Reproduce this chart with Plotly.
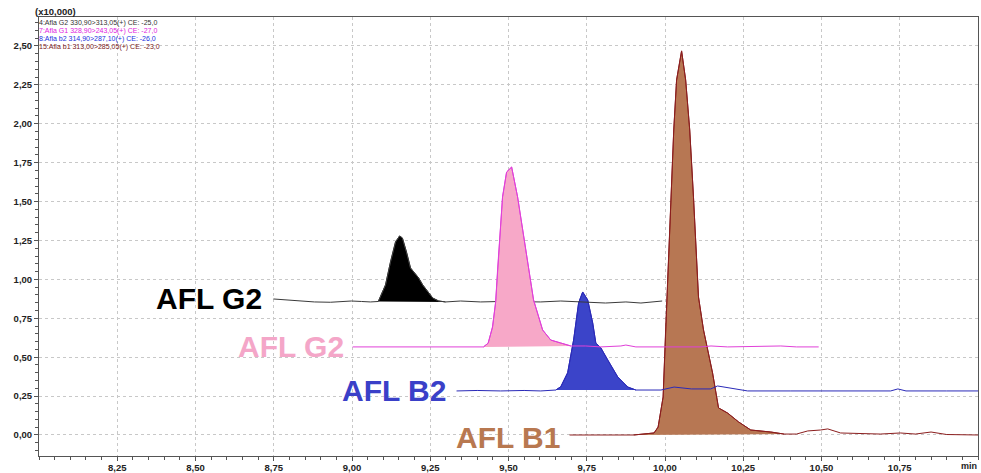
import numpy as np
import plotly.graph_objects as go

# ---- data (intensity in units of 10,000; time in min) ----
g2_t = [8.749, 8.80, 8.835, 8.88, 8.931, 8.998, 9.03, 9.059, 9.084, 9.107, 9.123, 9.139, 9.152, 9.161,
        9.174, 9.187, 9.200, 9.213, 9.226, 9.242, 9.258, 9.277, 9.299, 9.347, 9.411, 9.475, 9.539,
        9.603, 9.667, 9.73, 9.81, 9.875, 9.923, 9.991]
g2_v = [0.874, 0.866, 0.861, 0.855, 0.853, 0.861, 0.858, 0.855, 0.858, 0.964, 1.112, 1.240, 1.279, 1.266,
        1.176, 1.073, 1.041, 1.009, 0.964, 0.919, 0.880, 0.861, 0.855, 0.861, 0.855, 0.858, 0.855,
        0.855, 0.861, 0.855, 0.848, 0.855, 0.848, 0.861]

g1_t = [9.002, 9.10, 9.20, 9.315, 9.42, 9.435, 9.449, 9.459, 9.465, 9.481, 9.494, 9.510, 9.529, 9.564,
        9.580, 9.609, 9.635, 9.667, 9.699, 9.747, 9.795, 9.859, 9.875, 9.907, 9.987, 10.115, 10.147,
        10.20, 10.37, 10.42, 10.491]
g1_v = [0.566, 0.566, 0.566, 0.566, 0.566, 0.590, 0.694, 0.855, 1.060, 1.530, 1.690, 1.722, 1.530, 1.060,
        0.868, 0.675, 0.610, 0.591, 0.572, 0.572, 0.566, 0.572, 0.578, 0.566, 0.566, 0.566, 0.572,
        0.566, 0.572, 0.566, 0.566]

b2_t = [9.334, 9.40, 9.475, 9.55, 9.603, 9.651, 9.667, 9.689, 9.708, 9.724, 9.737, 9.753, 9.769, 9.779,
        9.795, 9.817, 9.849, 9.881, 9.907, 9.987, 10.029, 10.084, 10.146, 10.168, 10.20, 10.264, 10.40,
        10.55, 10.721, 10.744, 10.77, 10.90, 11.0]
b2_v = [0.283, 0.286, 0.283, 0.286, 0.283, 0.289, 0.310, 0.400, 0.610, 0.849, 0.919, 0.868, 0.720, 0.590,
        0.560, 0.480, 0.373, 0.308, 0.289, 0.289, 0.308, 0.296, 0.296, 0.315, 0.305, 0.283, 0.283,
        0.283, 0.283, 0.296, 0.283, 0.283, 0.283]

b1_t = [9.695, 9.75, 9.80, 9.85, 9.90, 9.965, 9.978, 9.994, 10.002, 10.015, 10.028, 10.037, 10.053, 10.066,
        10.079, 10.091, 10.107, 10.123, 10.152, 10.171, 10.200, 10.235, 10.274, 10.338, 10.380, 10.42,
        10.456, 10.497, 10.52, 10.561, 10.62, 10.688, 10.752, 10.80, 10.85, 10.90, 11.0]
b1_v = [0.0, 0.0, 0.0, 0.003, 0.0, 0.013, 0.051, 0.244, 0.675, 1.317, 1.960, 2.281, 2.468, 2.281,
        1.960, 1.530, 0.887, 0.675, 0.398, 0.174, 0.141, 0.084, 0.032, 0.019, 0.006, 0.006,
        0.026, 0.032, 0.039, 0.013, 0.010, 0.006, 0.013, 0.006, 0.019, 0.003, 0.0]

# integrated peak windows (min)
g2_peak = (9.084, 9.299)
g1_peak = (9.42, 9.699)
b2_peak = (9.651, 9.907)
b1_peak = (9.90, 10.380)

legend_lines = ["4:Afla G2 330,90>313,05(+) CE: -25,0",
                "7:Afla G1 328,90>243,05(+) CE: -27,0",
                "8:Afla b2 314,90>287,10(+) CE: -26,0",
                "15:Afla b1 313,00>285,05(+) CE: -23,0"]
legend_colors = ["#333333", "#E020E0", "#2030E0", "#7A2020"]

# drawing order (later on top): B1, B2, G2, G1
series = [
    (b1_t, b1_v, b1_peak, "#8B1E1E", "#B77753"),
    (b2_t, b2_v, b2_peak, "#2A2AB8", "#3B44C9"),
    (g2_t, g2_v, g2_peak, "#3A3A3A", "#000000"),
    (g1_t, g1_v, g1_peak, "#E040D8", "#F7A8C8"),
]

labels = [
    ("AFL G2", 8.72, 0.880, "#000000"),
    ("AFL G2", 8.98, 0.566, "#F4A6C8"),
    ("AFL B2", 9.308, 0.289, "#3A40C8"),
    ("AFL B1", 9.67, -0.013, "#B87850"),
]

fig = go.Figure()

for t, v, pk, lc, fc in series:
    t = np.array(t); v = np.array(v)
    m = (t >= pk[0]) & (t <= pk[1])
    fig.add_trace(go.Scatter(x=t[m], y=v[m], mode="lines", fill="toself",
                             fillcolor=fc, line=dict(color=lc, width=1),
                             hoverinfo="skip", showlegend=False))
    fig.add_trace(go.Scatter(x=t, y=v, mode="lines", line=dict(color=lc, width=1),
                             showlegend=False))

font = "Liberation Sans, Arial, sans-serif"
ann = []
for txt, x, y, c in labels:
    ann.append(dict(x=x, y=y, xref="x", yref="y", text=txt, showarrow=False,
                    xanchor="right", yanchor="middle",
                    font=dict(family=font, size=30, color=c, weight="bold")))
for i, (txt, c) in enumerate(zip(legend_lines, legend_colors)):
    ann.append(dict(x=0.0, y=1 - (0.5 + 8.0 * i) / 439, xref="paper", yref="paper",
                    text=txt, showarrow=False, xanchor="left", yanchor="top", borderpad=0,
                    xshift=-1, font=dict(family=font, size=7.0, color=c)))
ann.append(dict(x=0.0, y=1.0, xref="paper", yref="paper", text="(x10,000)", showarrow=False,
                xanchor="left", yanchor="bottom", xshift=-6, yshift=-2,
                font=dict(family=font, size=9.5, color="#222222", weight="bold")))
ann.append(dict(x=1.0, y=0, xref="paper", yref="paper", text="min", showarrow=False,
                xanchor="right", yanchor="top", yshift=-4, xshift=0, borderpad=0,
                font=dict(family=font, size=9, color="#222222", weight="bold")))

fig.update_layout(
    width=981, height=473,
    margin=dict(l=39, r=3, t=17, b=17),
    paper_bgcolor="white", plot_bgcolor="white",
    separators=",.",
    annotations=ann,
    font=dict(family=font, size=9.5, color="#222222"),
)
fig.update_xaxes(range=[8.0, 11.0], tickvals=[8.25, 8.5, 8.75, 9.0, 9.25, 9.5, 9.75, 10.0, 10.25, 10.5, 10.75],
                 tickformat=".2f", showline=True, linecolor="#555555", linewidth=1, mirror=True,
                 ticks="outside", ticklen=4, tickcolor="#555555", automargin=False,
                 ticklabelstandoff=-1,
                 tickfont=dict(family=font, size=9.5, color="#222222", weight="bold"),
                 showgrid=True, gridcolor="#C8C8C8", griddash="3px,3px", gridwidth=1,
                 minor=dict(dtick=0.05, tick0=8.0, ticks="outside", ticklen=3, tickcolor="#555555", showgrid=False),
                 zeroline=False)
fig.update_yaxes(range=[-0.135, 2.686], tickvals=[0, 0.25, 0.5, 0.75, 1.0, 1.25, 1.5, 1.75, 2.0, 2.25, 2.5],
                 tickformat=".2f", showline=True, linecolor="#555555", linewidth=1, mirror=True,
                 ticks="outside", ticklen=4, tickcolor="#555555", automargin=False,
                 tickfont=dict(family=font, size=9.5, color="#222222", weight="bold"),
                 showgrid=True, gridcolor="#C8C8C8", griddash="3px,3px", gridwidth=1,
                 minor=dict(dtick=0.05, tick0=0, ticks="outside", ticklen=3, tickcolor="#555555", showgrid=False),
                 zeroline=False)

fig.write_html("out.html", config={"displayModeBar": False},
               post_script="document.body.style.margin='0';document.body.style.overflow='hidden';")
